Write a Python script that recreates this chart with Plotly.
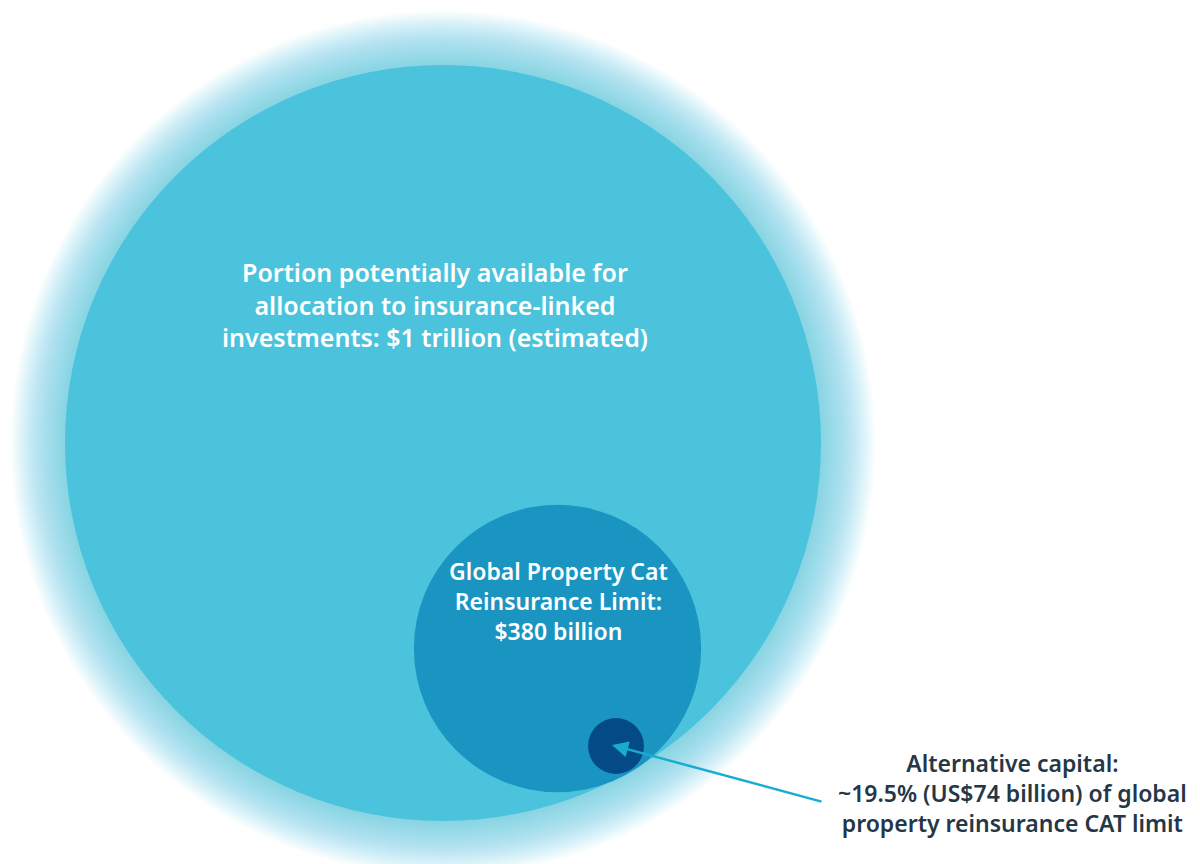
import plotly.graph_objects as go

# Data (US$ billions)
label_big = ["Portion potentially available for",
             "allocation to insurance-linked",
             "investments: $1 trillion (estimated)"]
label_mid = ["Global Property Cat",
             "Reinsurance Limit:",
             "$380 billion"]
label_small = ["Alternative capital:",
               "~19.5% (US$74 billion) of global",
               "property reinsurance CAT limit"]
values = [1000, 380, 74]

# Layout constants (pixel space)
PX_PER_BN = 0.378
centers = [(443, 443), (557.5, 648.5), (616, 746)]
colors = ["#4BC3DC", "#1A95C2", "#034A86"]

fig = go.Figure()
fig.add_trace(go.Scatter(x=[0, 1200], y=[0, 864], mode="markers",
                         marker=dict(opacity=0), hoverinfo="skip", showlegend=False))

shapes = []
# glow around big circle
r0 = values[0] * PX_PER_BN
cx, cy = centers[0]
N = 28
glow = 54
for i in range(N):
    r = r0 + glow * (1 - i / N)
    shapes.append(dict(type="circle", xref="x", yref="y",
                       x0=cx - r, x1=cx + r, y0=cy - r, y1=cy + r,
                       fillcolor="rgba(75,195,220,0.035)", line=dict(width=0), layer="below"))

for v, (cx, cy), c in zip(values, centers, colors):
    r = v * PX_PER_BN
    shapes.append(dict(type="circle", xref="x", yref="y",
                       x0=cx - r, x1=cx + r, y0=cy - r, y1=cy + r,
                       fillcolor=c, line=dict(width=0), layer="below"))

font_family = "Noto Sans, sans-serif"
annotations = []
blocks = [
    (label_big, 435, 304.5, 25, "white"),
    (label_mid, 558, 600.5, 23, "white"),
    (label_small, 1012, 793, 23, "#253746"),
]
for lines, x, y, size, col in blocks:
    annotations.append(dict(x=x, y=y, text="<br>".join(lines), showarrow=False,
                            xref="x", yref="y", xanchor="center", yanchor="middle",
                            align="center", borderpad=0,
                            font=dict(family=font_family, size=size, color=col, weight=600)))

annotations.append(dict(x=612, y=745, ax=823, ay=802, xref="x", yref="y", axref="x", ayref="y",
                        text="", showarrow=True, arrowhead=2, arrowsize=1.3, arrowwidth=2.5,
                        arrowcolor="#19ACD3"))

fig.update_layout(
    width=1200, height=864,
    margin=dict(l=0, r=0, t=0, b=0),
    paper_bgcolor="white", plot_bgcolor="white",
    xaxis=dict(range=[0, 1200], visible=False, fixedrange=True),
    yaxis=dict(range=[864, 0], visible=False, fixedrange=True),
    shapes=shapes, annotations=annotations, showlegend=False,
)

fig.write_html("out.html", config={"displayModeBar": False})
